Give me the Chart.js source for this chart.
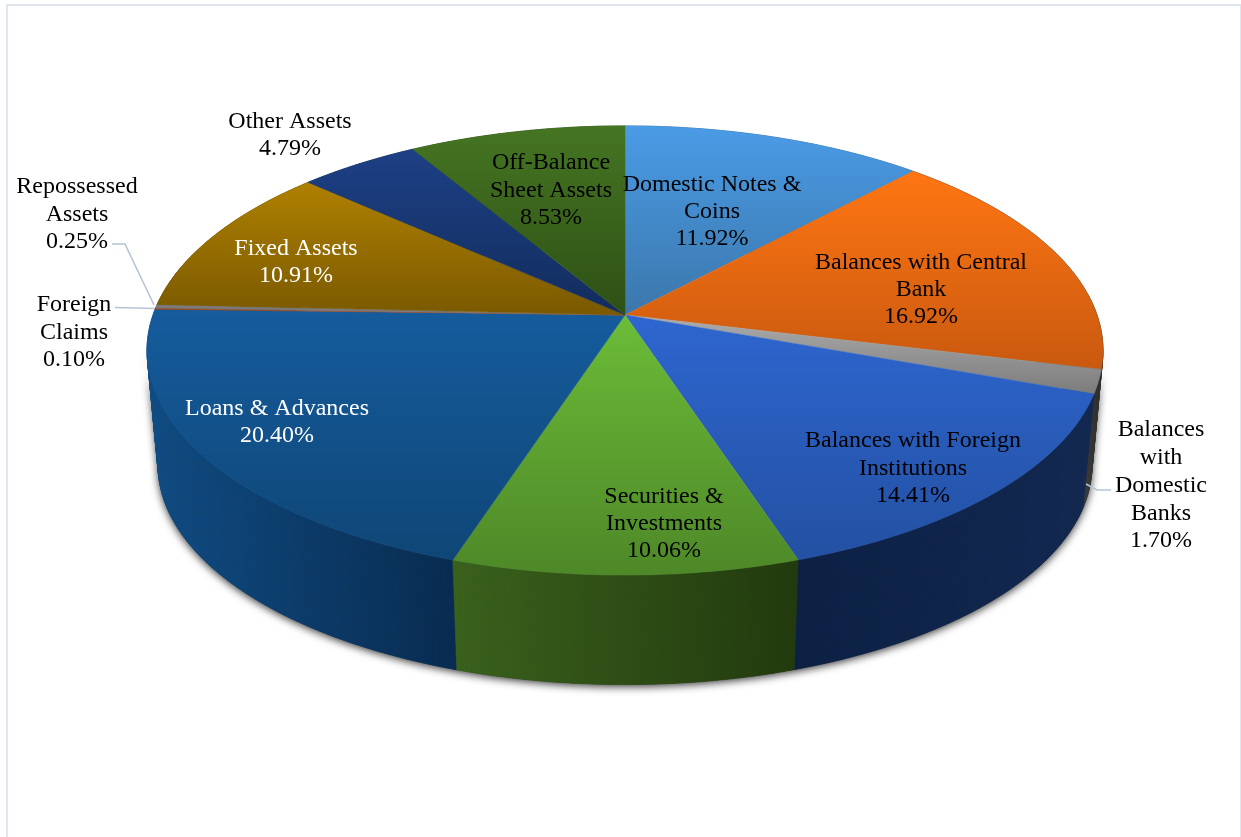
<!DOCTYPE html>
<html lang="en">
<head>
<meta charset="utf-8">
<title>Asset composition</title>
<script src="https://cdn.jsdelivr.net/npm/chart.js@4/dist/chart.umd.min.js"></script>
<style>
  html, body { margin: 0; padding: 0; background: #fff; overflow: hidden; }
  #frame { position: absolute; left: 6px; top: 4px; width: 1232px; height: 900px; border: 2px solid #dfe6ee; }
  #pie { position: absolute; left: 0; top: 0; }
</style>
</head>
<body>
<div id="frame"></div>
<canvas id="pie" width="1241" height="837"></canvas>
<script>
// Share of total assets, clockwise from twelve o'clock.
const categories = [
  ["Domestic Notes &", "Coins"],
  ["Balances with Central", "Bank"],
  ["Balances", "with", "Domestic", "Banks"],
  ["Balances with Foreign", "Institutions"],
  ["Securities &", "Investments"],
  ["Loans & Advances"],
  ["Foreign", "Claims"],
  ["Repossessed", "Assets"],
  ["Fixed Assets"],
  ["Other Assets"],
  ["Off-Balance", "Sheet Assets"]
];
const shares = [11.92, 16.92, 1.70, 14.41, 10.06, 20.40, 0.10, 0.25, 10.91, 4.79, 8.53];

// Slice face shading: light edge, dark edge.
const faceLight = ["#4a9be6", "#ff7613", "#acacac", "#2e66d0", "#6cbc38", "#155c9d", "#a84a1e", "#7c7c7c", "#af8000", "#1d4085", "#457522"];
const faceDark  = ["#3b77ab", "#c9590f", "#7c7c7c", "#2350a2", "#4e8828", "#0f4676", "#a04418", "#747474", "#7a5900", "#122c5c", "#2e5015"];
// Rim shading: left end, right end.
const rimLeft  = ["#2a5c8a", "#383330", "#3c3c3c", "#0c2044", "#3a611c", "#0f4c84", "#5a2a10", "#444444", "#5a4200", "#0c2044", "#223d0f"];
const rimRight = ["#2a5c8a", "#383330", "#2c2c2c", "#122851", "#223a0e", "#082b50", "#5a2a10", "#444444", "#5a4200", "#0c2044", "#223d0f"];

// Label layout: centre x and the middle of each text line.
const labelCentreX = [712, 921, 1161, 913, 664, 277, 74, 77, 296, 290, 551];
const labelFirstY  = [184, 262, 429, 440, 496, 408, 304, 186, 248, 121, 162];
const labelLineGap = [27, 27, 27.8, 27.5, 27, 27, 27.5, 27.5, 27, 27, 27.5];
const labelColor   = ["#000", "#000", "#000", "#000", "#000", "#fff", "#000", "#000", "#fff", "#000", "#000"];

// Elbowed leader lines for the labels that sit outside the pie.
const leaderLines = [
  [[112, 244], [125, 244], [154, 305]],
  [[115, 307.5], [155, 308.5]],
  [[1111, 490], [1097, 490], [1086, 484]]
];

// Perspective of the tilted disc.
const view = { cx: 625, cy: 315, a: 472, b: 219, p: 0.158, rimDrop: 115.5, rimScale: 0.977 };

function project(angle) {
  const ux = Math.cos(angle), uy = Math.sin(angle);
  const w = 1 - view.p * uy;
  return { x: view.cx + view.a * ux / w, y: view.cy + view.b * uy / w };
}
function dropToBase(pt) {
  return {
    x: view.cx + (pt.x - view.cx) * view.rimScale,
    y: view.cy + view.rimDrop + (pt.y - view.cy) * view.rimScale
  };
}
function rimPoints(start, end) {
  const steps = Math.max(2, Math.ceil((end - start) / 0.01));
  const pts = [];
  for (let i = 0; i <= steps; i++) pts.push(project(start + (end - start) * i / steps));
  return pts;
}

const tiltedPie = {
  id: "tiltedPie",
  beforeDatasetsDraw(chart) {
    const ctx = chart.ctx;
    const arcs = chart.getDatasetMeta(0).data;

    // Soft ground shadow, cast only by the front of the rim (between the side tangents).
    const tangent = Math.asin(view.p);
    const frontTop = rimPoints(tangent, Math.PI - tangent);
    const frontBase = frontTop.map(dropToBase).reverse();
    ctx.save();
    ctx.shadowColor = "rgba(0,0,0,0.8)";
    ctx.shadowBlur = 9;
    ctx.shadowOffsetX = 0;
    ctx.shadowOffsetY = 2;
    ctx.fillStyle = "#333";
    ctx.beginPath();
    frontTop.concat(frontBase).forEach((q, k) => k ? ctx.lineTo(q.x, q.y) : ctx.moveTo(q.x, q.y));
    ctx.closePath();
    ctx.fill();
    ctx.restore();

    // Rim walls, back to front. Each sliver is filled on its own so the part
    // that folds over at the side tangents does not cancel out.
    const order = arcs.map((arc, i) => ({ arc, i, pts: rimPoints(arc.startAngle, arc.endAngle) }));
    order.sort((m, n) => Math.max(...m.pts.map(q => q.y)) - Math.max(...n.pts.map(q => q.y)));
    order.forEach(({ i, pts }) => {
      const base = pts.map(dropToBase);
      const xs = pts.concat(base).map(q => q.x);
      const g = ctx.createLinearGradient(Math.min(...xs), 0, Math.max(...xs), 0);
      g.addColorStop(0, rimLeft[i]);
      g.addColorStop(1, rimRight[i]);
      ctx.fillStyle = g;
      ctx.strokeStyle = g;
      ctx.lineWidth = 0.6;
      for (let k = 1; k < pts.length; k++) {
        ctx.beginPath();
        ctx.moveTo(pts[k - 1].x, pts[k - 1].y);
        ctx.lineTo(pts[k].x, pts[k].y);
        ctx.lineTo(base[k].x, base[k].y);
        ctx.lineTo(base[k - 1].x, base[k - 1].y);
        ctx.closePath();
        ctx.fill();
        ctx.stroke();
      }
    });

    // Top faces with a vertical sheen per slice.
    arcs.forEach((arc, i) => {
      const pts = rimPoints(arc.startAngle, arc.endAngle);
      const ys = pts.map(q => q.y).concat(view.cy);
      const g = ctx.createLinearGradient(0, Math.min(...ys), 0, Math.max(...ys));
      g.addColorStop(0, faceLight[i]);
      g.addColorStop(1, faceDark[i]);
      ctx.fillStyle = g;
      ctx.strokeStyle = g;
      ctx.lineWidth = 0.5;
      ctx.beginPath();
      ctx.moveTo(view.cx, view.cy);
      pts.forEach(q => ctx.lineTo(q.x, q.y));
      ctx.closePath();
      ctx.fill();
      ctx.stroke();
    });

    // Leader lines.
    ctx.strokeStyle = "#b5c3d5";
    ctx.lineWidth = 1.6;
    leaderLines.forEach(line => {
      ctx.beginPath();
      line.forEach((q, k) => k ? ctx.lineTo(q[0], q[1]) : ctx.moveTo(q[0], q[1]));
      ctx.stroke();
    });

    // Category and percentage labels.
    ctx.font = '24px "Liberation Serif", serif';
    ctx.textAlign = "center";
    ctx.textBaseline = "middle";
    categories.forEach((lines, i) => {
      ctx.fillStyle = labelColor[i];
      lines.concat(shares[i].toFixed(2) + "%").forEach((text, k) => {
        ctx.fillText(text, labelCentreX[i], labelFirstY[i] + 1 + k * labelLineGap[i]);
      });
    });
    return false;
  }
};

new Chart(document.getElementById("pie"), {
  type: "pie",
  data: {
    labels: categories.map(c => c.join(" ")),
    datasets: [{ data: shares, backgroundColor: faceLight, borderWidth: 0 }]
  },
  options: {
    responsive: false,
    animation: false,
    events: [],
    plugins: { legend: { display: false }, tooltip: { enabled: false }, title: { display: false } }
  },
  plugins: [tiltedPie]
});
</script>
</body>
</html>
